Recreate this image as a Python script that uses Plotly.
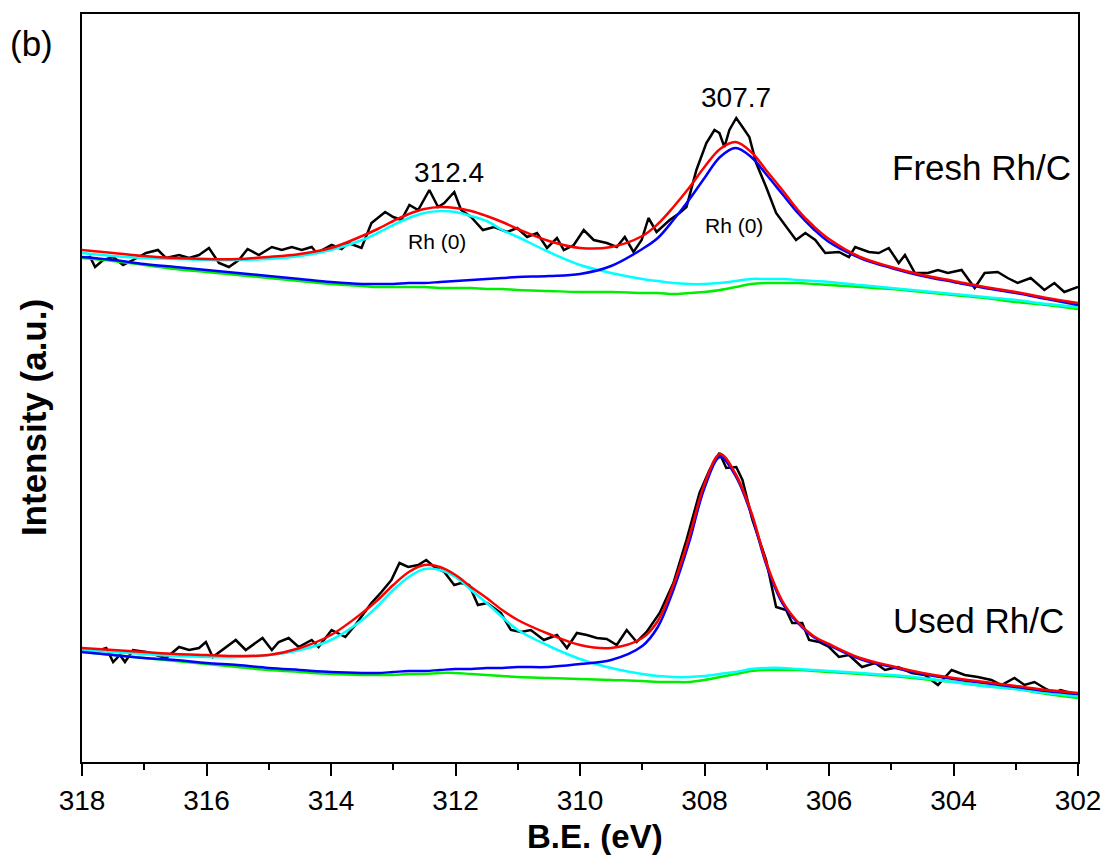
import plotly.graph_objects as go

# ---------------- data (binding energy in eV, intensity in a.u.) ----------------
fit_be = [318, 317.5, 317, 316.5, 316, 315.5, 315, 314.5, 314, 313.5,
          313.25, 313, 312.75, 312.5, 312.25, 312, 311.75, 311.5, 311.25, 311,
          310.5, 310, 309.5, 309,
          308.75, 308.5, 308.25, 308, 307.75, 307.5, 307.25, 307, 306.75, 306.5, 306.25, 306,
          305.5, 305, 304.5, 304, 303.5, 303, 302.5, 302]

# Fresh Rh/C
fresh_bg = [742, 739, 735, 731, 728, 725, 722, 719, 716, 714,
            713, 713, 713, 713, 712, 712, 712, 711, 711, 710,
            709, 708, 708, 707,
            707, 706, 707, 708, 710, 713, 716, 717, 717, 717, 716, 715,
            713, 711, 708, 705, 702, 698, 695, 691]
fresh_p1 = [747, 744, 742, 741, 740, 740, 741, 744, 750, 760,
            767, 775, 782, 787, 789, 788, 784, 779, 770, 763,
            748, 735, 727, 721,
            719, 717, 716, 716, 717, 719, 721, 721, 721, 720, 719, 718,
            715, 712, 709, 706, 703, 700, 696, 693]
fresh_p2 = [743, 740, 736, 733, 730, 727, 724, 721, 718, 716,
            716, 716, 717, 717, 718, 719, 720, 721, 722, 723,
            724, 726, 734, 751,
            762, 780, 800, 822, 843, 852, 843, 825, 806, 787, 771, 758,
            742, 732, 724, 718, 712, 707, 701, 695]
fresh_sum = [750, 747, 744, 742, 741, 741, 743, 746, 752, 764,
             771, 779, 786, 791, 793, 792, 789, 784, 778, 771,
             759, 752, 753, 764,
             776, 793, 812, 833, 851, 858, 848, 829, 810, 790, 774, 761,
             743, 733, 725, 719, 713, 708, 702, 697]

fresh_raw_be = [317.95, 317.87, 317.79, 317.66, 317.50, 317.34, 317.18, 316.97, 316.78, 316.65,
                316.44, 316.28, 316.12, 315.96, 315.80, 315.64, 315.48, 315.34, 315.16, 314.95,
                314.79, 314.63, 314.47, 314.31, 314.23, 313.99, 313.83, 313.72, 313.51, 313.35,
                313.13, 313.00, 312.87, 312.74, 312.60, 312.42, 312.28, 312.18, 312.02, 311.91,
                311.75, 311.56, 311.38, 311.17, 311.01, 310.85, 310.69, 310.53, 310.37, 310.26,
                310.10, 309.94, 309.78, 309.57, 309.41, 309.28, 309.14, 309.01, 308.90, 308.77,
                308.56, 308.40, 308.29, 308.13, 307.97, 307.84, 307.76, 307.68, 307.60, 307.49,
                307.39, 307.28, 307.17, 307.01, 306.85, 306.69, 306.53, 306.38, 306.22, 306.06,
                305.84, 305.68, 305.58, 305.36, 305.20, 305.04, 304.88, 304.78, 304.62, 304.41,
                304.25, 304.09, 303.87, 303.66, 303.50, 303.29, 303.13, 302.97, 302.76, 302.54,
                302.38, 302.22, 302.00]
fresh_raw = [742, 743, 733, 740, 743, 735, 740, 747, 750, 742,
             745, 742, 745, 752, 737, 733, 740, 751, 745, 753,
             750, 753, 750, 753, 747, 755, 751, 757, 752, 777,
             788, 783, 780, 795, 790, 810, 793, 797, 808, 790,
             783, 770, 773, 768, 772, 763, 767, 752, 762, 750,
             755, 770, 760, 757, 753, 763, 748, 760, 782, 768,
             780, 787, 793, 830, 857, 870, 867, 853, 870, 882,
             873, 863, 837, 813, 787, 773, 760, 767, 760, 747,
             748, 743, 753, 748, 747, 752, 737, 745, 727, 727,
             730, 727, 730, 712, 727, 728, 722, 717, 722, 710,
             717, 708, 713]

# Used Rh/C
used_bg = [348, 345, 342, 339, 336, 333, 330, 328, 326, 325,
           325, 325, 326, 326, 327, 327, 326, 325, 324, 323,
           322, 321, 320, 319,
           318, 318, 318, 320, 323, 326, 329, 330, 330, 330, 329, 328,
           326, 324, 321, 318, 314, 311, 306, 302]
used_p1 = [350, 348, 346, 344, 343, 343, 345, 350, 360, 380,
           394, 410, 423, 431, 430, 423, 410, 397, 383, 370,
           354, 341, 332, 326,
           324, 323, 323, 324, 326, 328, 331, 332, 332, 331, 330, 329,
           327, 325, 322, 318, 314, 311, 307, 304]
used_p2 = [348, 345, 342, 340, 337, 335, 332, 330, 328, 327,
           327, 328, 329, 329, 330, 331, 331, 332, 332, 333,
           333, 336, 340, 354,
           373, 410, 457, 512, 543, 524, 486, 434, 397, 377, 363, 355,
           341, 333, 326, 321, 317, 313, 309, 306]
used_sum = [352, 350, 348, 346, 345, 344, 345, 352, 365, 387,
            400, 415, 428, 435, 433, 425, 413, 402, 390, 380,
            366, 355, 352, 362,
            379, 415, 462, 516, 546, 526, 488, 436, 399, 378, 364, 356,
            342, 334, 327, 322, 318, 314, 310, 307]

used_raw_be = [317.95, 317.87, 317.61, 317.50, 317.39, 317.31, 317.18, 316.97, 316.81, 316.65,
               316.44, 316.28, 316.12, 316.01, 315.90, 315.74, 315.53, 315.37, 315.10, 314.95,
               314.84, 314.68, 314.52, 314.31, 314.20, 313.99, 313.77, 313.61, 313.45, 313.35,
               313.19, 313.03, 312.90, 312.76, 312.60, 312.47, 312.34, 312.18, 312.02, 311.91,
               311.78, 311.64, 311.49, 311.27, 311.11, 310.95, 310.79, 310.58, 310.37, 310.21,
               310.05, 309.89, 309.73, 309.57, 309.41, 309.25, 309.09, 308.93, 308.72, 308.50,
               308.29, 308.08, 307.92, 307.76, 307.65, 307.49, 307.39, 307.23, 307.01, 306.85,
               306.69, 306.59, 306.43, 306.32, 306.16, 306.00, 305.84, 305.68, 305.47, 305.26,
               305.10, 304.89, 304.67, 304.46, 304.25, 304.03, 303.82, 303.61, 303.39, 303.23,
               303.02, 302.86, 302.70, 302.54, 302.38, 302.28, 302.12, 302.00]
used_raw = [350, 347, 352, 338, 345, 338, 350, 348, 345, 342,
            353, 350, 352, 358, 343, 350, 360, 350, 362, 350,
            358, 362, 353, 360, 353, 370, 363, 375, 388, 397,
            408, 420, 437, 433, 435, 440, 433, 428, 415, 417,
            415, 395, 397, 387, 370, 368, 370, 360, 365, 352,
            367, 365, 362, 361, 355, 370, 358, 368, 387, 417,
            460, 507, 530, 547, 532, 533, 520, 480, 440, 393,
            390, 377, 377, 360, 358, 353, 343, 345, 333, 337,
            330, 333, 327, 325, 315, 330, 325, 323, 320, 315,
            322, 315, 318, 312, 307, 310, 307, 306]

x_ticks = [318, 316, 314, 312, 310, 308, 306, 304, 302]
x_minor = [317, 315, 313, 311, 309, 307, 305, 303]

# ---------------- figure ----------------
FONT = "Arial, Liberation Sans, sans-serif"
fig = go.Figure()

def raw(xs, ys):
    fig.add_trace(go.Scatter(x=xs, y=ys, mode="lines",
                             line=dict(color="black", width=2.5),
                             showlegend=False, hoverinfo="skip"))

def fit(xs, ys, color):
    fig.add_trace(go.Scatter(x=xs, y=ys, mode="lines",
                             line=dict(color=color, width=2.5, shape="spline", smoothing=1.0),
                             showlegend=False, hoverinfo="skip"))

for raw_x, raw_y, bg, p1, p2, tot in [
    (fresh_raw_be, fresh_raw, fresh_bg, fresh_p1, fresh_p2, fresh_sum),
    (used_raw_be, used_raw, used_bg, used_p1, used_p2, used_sum),
]:
    raw(raw_x, raw_y)
    fit(fit_be, bg, "#00EE00")
    fit(fit_be, p1, "#00FFFF")
    fit(fit_be, p2, "#0000FF")
    fit(fit_be, tot, "#FF0000")

ann_font = dict(family=FONT, color="black")
annotations = [
    dict(text="(b)", x=-0.051, y=0.96, xref="paper", yref="paper", showarrow=False,
         xanchor="center", yanchor="middle", font=dict(ann_font, size=35)),
    dict(text="312.4", x=312.1, y=828, showarrow=False, xanchor="center", yanchor="middle",
         font=dict(ann_font, size=28)),
    dict(text="307.7", x=307.49, y=903, showarrow=False, xanchor="center", yanchor="middle",
         font=dict(ann_font, size=28)),
    dict(text="Rh (0)", x=312.3, y=759, showarrow=False, xanchor="center", yanchor="middle",
         font=dict(ann_font, size=21)),
    dict(text="Rh (0)", x=307.52, y=775, showarrow=False, xanchor="center", yanchor="middle",
         font=dict(ann_font, size=21)),
    dict(text="Fresh Rh/C", x=0.995, y=833, xref="paper", showarrow=False,
         xanchor="right", yanchor="middle", font=dict(ann_font, size=35)),
    dict(text="Used Rh/C", x=0.988, y=380, xref="paper", showarrow=False,
         xanchor="right", yanchor="middle", font=dict(ann_font, size=35)),
    dict(text="<b>Intensity (a.u.)</b>", x=-0.048, y=0.46, xref="paper", yref="paper",
         showarrow=False, textangle=-90, xanchor="center", yanchor="middle",
         font=dict(ann_font, size=35)),
    dict(text="<b>B.E. (eV)</b>", x=0.515, y=-0.099, xref="paper", yref="paper",
         showarrow=False, xanchor="center", yanchor="middle",
         font=dict(ann_font, size=33)),
]

fig.update_layout(
    width=1113, height=857,
    margin=dict(l=82, r=29, t=14, b=95),
    paper_bgcolor="white", plot_bgcolor="white",
    font=dict(family=FONT, color="black"),
    showlegend=False,
    annotations=annotations,
    xaxis=dict(range=[318, 302], tickmode="array", tickvals=x_ticks,
               ticktext=[str(v) for v in x_ticks],
               ticks="outside", ticklen=12, tickwidth=2, tickcolor="black",
               minor=dict(tickmode="array", tickvals=x_minor, ticks="outside",
                          ticklen=6, tickwidth=2, tickcolor="black", showgrid=False),
               showline=True, linewidth=2, linecolor="black", mirror=True,
               showgrid=False, zeroline=False,
               tickfont=dict(family=FONT, size=28, color="black")),
    yaxis=dict(range=[238, 986], showticklabels=False, ticks="",
               showline=True, linewidth=2, linecolor="black", mirror=True,
               showgrid=False, zeroline=False),
)

fig.write_html("out.html")
